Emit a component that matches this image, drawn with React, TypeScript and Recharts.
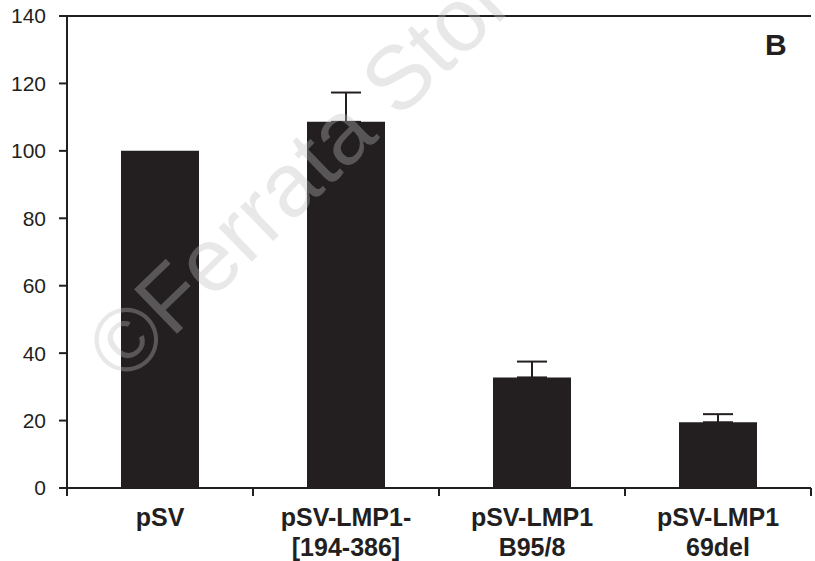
import React from 'react';
import { BarChart, Bar, XAxis, YAxis, ErrorBar, ReferenceLine } from 'recharts';

const lineOne = ['pSV', 'pSV-LMP1-', 'pSV-LMP1', 'pSV-LMP1'];
const lineTwo = ['', '[194-386]', 'B95/8', '69del'];
const values = [100, 108.6, 32.8, 19.5];
const errUp = [null, 8.7, 4.7, 2.4];
const yTicks = [0, 20, 40, 60, 80, 100, 120, 140];

const data = lineOne.map((name, i) => ({
  name,
  value: values[i],
  err: errUp[i] == null ? null : [0, errUp[i]],
}));

const INK = '#231f20';
const FONT = '"Liberation Sans", Arial, Helvetica, sans-serif';
const HALF_BAND = 93;

function CategoryTick(props: any) {
  const { x, y, index } = props;
  return (
    <g>
      <line x1={x - HALF_BAND} y1={y} x2={x - HALF_BAND} y2={y + 8} stroke={INK} strokeWidth={2} />
      {index === lineOne.length - 1 && (
        <line x1={x + HALF_BAND} y1={y} x2={x + HALF_BAND} y2={y + 8} stroke={INK} strokeWidth={2} />
      )}
      <text x={x} y={y + 38} textAnchor="middle" fill={INK} fontSize={25} fontWeight="bold" fontFamily={FONT}>
        {lineOne[index]}
      </text>
      {lineTwo[index] && (
        <text x={x} y={y + 68} textAnchor="middle" fill={INK} fontSize={25} fontWeight="bold" fontFamily={FONT}>
          {lineTwo[index]}
        </text>
      )}
    </g>
  );
}

export default function App() {
  return (
    <div style={{ position: 'absolute', left: 0, top: 0, width: 815, height: 561, background: '#fff' }}>
      <BarChart width={815} height={561} data={data} margin={{ top: 16, right: 4, bottom: 0, left: 0 }}>
        <XAxis
          dataKey="name"
          height={73}
          tick={<CategoryTick />}
          tickLine={false}
          tickSize={0}
          tickMargin={0}
          interval={0}
          axisLine={{ stroke: INK, strokeWidth: 2 }}
        />
        <YAxis
          domain={[0, 140]}
          ticks={yTicks}
          width={67}
          tickSize={8}
          tickMargin={13}
          tick={{ fill: INK, fontSize: 21, fontFamily: FONT }}
          tickLine={{ stroke: INK, strokeWidth: 2 }}
          axisLine={{ stroke: INK, strokeWidth: 2 }}
        />
        <YAxis
          yAxisId="right"
          orientation="right"
          width={0}
          domain={[0, 140]}
          tick={false}
          tickLine={false}
          axisLine={{ stroke: INK, strokeWidth: 1.5 }}
        />
        <ReferenceLine y={140} stroke={INK} strokeWidth={2} />
        <Bar dataKey="value" fill={INK} barSize={78} isAnimationActive={false}>
          <ErrorBar dataKey="err" direction="y" width={15} stroke={INK} strokeWidth={2} />
        </Bar>
      </BarChart>
      <svg width={815} height={561} style={{ position: 'absolute', left: 0, top: 0, pointerEvents: 'none' }}>
        <text x={765} y={55} fill={INK} fontSize={30} fontWeight="bold" fontFamily={FONT}>
          B
        </text>
        <text
          x={124}
          y={385}
          transform="rotate(-44 124 385)"
          fill="#bdbdbd"
          fillOpacity={0.35}
          fontSize={90}
          fontFamily={FONT}
        >
          ©Ferrata Storti
        </text>
      </svg>
    </div>
  );
}
